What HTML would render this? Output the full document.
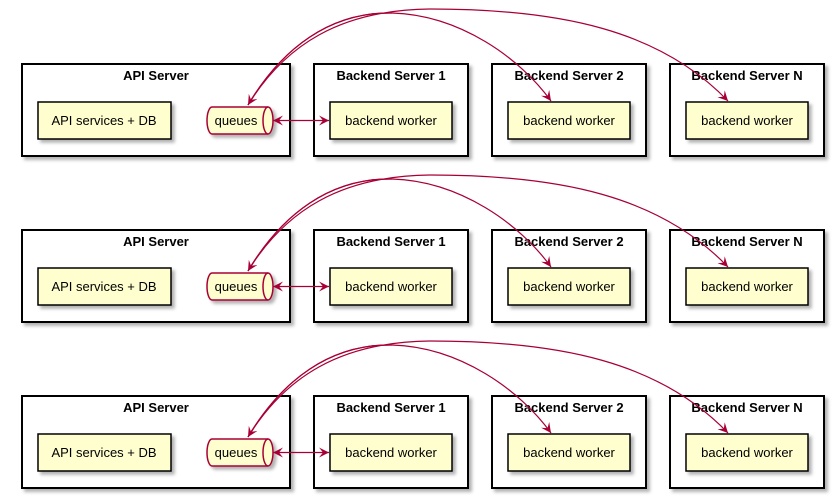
<!DOCTYPE html>
<html><head><meta charset="utf-8"><style>
html,body{margin:0;padding:0;background:#fff;}
svg{display:block;}
text{font-family:"Liberation Sans",Arial,sans-serif;}
</style></head><body>
<svg width="834" height="498" viewBox="0 0 834 498" xmlns="http://www.w3.org/2000/svg">
<defs>
<filter id="sh" x="-10%" y="-10%" width="130%" height="140%">
<feDropShadow dx="3" dy="3" stdDeviation="1.5" flood-color="#000" flood-opacity="0.3"/>
</filter>
<marker id="ar" markerWidth="12" markerHeight="10" refX="10" refY="5" orient="auto" markerUnits="userSpaceOnUse">
<path d="M0,0 L10,5 L0,10 L4,5 Z" fill="#A80036"/>
</marker>
<marker id="ars" markerWidth="12" markerHeight="10" refX="10" refY="5" orient="auto-start-reverse" markerUnits="userSpaceOnUse">
<path d="M0,0 L10,5 L0,10 L4,5 Z" fill="#A80036"/>
</marker>
<g id="row">
<g filter="url(#sh)" fill="#fff" stroke="#000" stroke-width="2">
<rect x="22" y="64" width="268" height="92"/>
<rect x="314" y="64" width="154" height="92"/>
<rect x="492" y="64" width="154" height="92"/>
<rect x="670" y="64" width="154" height="92"/>
</g>
<g font-size="13" font-weight="bold" text-anchor="middle" fill="#000">
<text x="156" y="80">API Server</text>
<text x="391" y="80">Backend Server 1</text>
<text x="569" y="80">Backend Server 2</text>
<text x="747" y="80">Backend Server N</text>
</g>
<g filter="url(#sh)" fill="#FEFECE" stroke="#000" stroke-width="1.5">
<rect x="38" y="102" width="133" height="37"/>
<rect x="330" y="102" width="122" height="37"/>
<rect x="508" y="102" width="122" height="37"/>
<rect x="686" y="102" width="122" height="37"/>
</g>
<g filter="url(#sh)" fill="#FEFECE" stroke="#A80036" stroke-width="1.5">
<path d="M212,107 L268,107 A5,13.5 0 0 1 268,134 L212,134 A5,13.5 0 0 1 212,107 Z"/>
<path d="M268,107 A5,13.5 0 0 0 268,134" fill="none"/>
</g>
<g font-size="13" text-anchor="middle" fill="#000">
<text x="104" y="125">API services + DB</text>
<text x="236" y="125">queues</text>
<text x="391" y="125">backend worker</text>
<text x="569" y="125">backend worker</text>
<text x="747" y="125">backend worker</text>
</g>
<g fill="none" stroke="#A80036" stroke-width="1.2">
<line x1="273" y1="120.5" x2="329" y2="120.5" marker-start="url(#ars)" marker-end="url(#ar)"/>
<path d="M248,105 C282,48 330,12 392,13 C460,15 520,58 551,101" marker-end="url(#ar)"/>
<path d="M248,105 C285,45 340,10 430,9 C560,9 660,30 728,101" marker-end="url(#ar)"/>
<path d="M392,13 C330,12 282,48 248,105" marker-end="url(#ar)"/>
</g>
</g>
</defs>
<use href="#row"/>
<use href="#row" y="166"/>
<use href="#row" y="332"/>
</svg>
</body></html>
